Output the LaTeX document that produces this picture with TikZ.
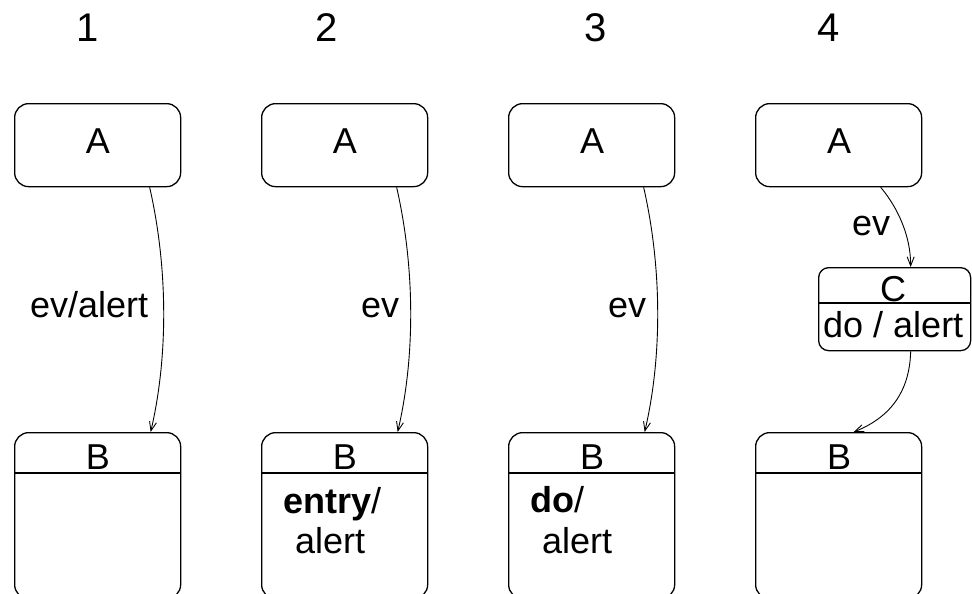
\documentclass[tikz,border=0pt]{standalone}
\usepackage{fontspec}
\setmainfont{Liberation Sans}
\usetikzlibrary{arrows.meta}
\begin{document}
\begin{tikzpicture}[x=1pt,y=-1pt,
  statebox/.style={draw, line width=1.3pt, rounded corners=14pt, minimum width=166pt, inner sep=0pt, anchor=north west},
  lbl/.style={inner sep=0pt, anchor=base, font=\fontsize{36}{40}\selectfont},
  lblw/.style={inner sep=0pt, anchor=base west, font=\fontsize{36}{40}\selectfont},
  num/.style={inner sep=0pt, anchor=base, font=\fontsize{40}{44}\selectfont},
  trans/.style={line width=0.9pt, -{Straight Barb[length=9pt,width=7pt]}},
  sep/.style={line width=1.3pt}
]
\clip (0,0) rectangle (972,594);
\fill[white] (0,0) rectangle (972,594);

% column numbers
\node[num] (n1) at (88,42) {1};
\node[num] (n2) at (327,42) {2};
\node[num] (n3) at (596,42) {3};
\node[num] (n4) at (829,42) {4};

% A boxes
\node[statebox, minimum height=83pt] (A1) at (14,103) {};
\node[statebox, minimum height=83pt] (A2) at (261,103) {};
\node[statebox, minimum height=83pt] (A3) at (508,103) {};
\node[statebox, minimum height=83pt] (A4) at (755,103) {};
\node[lbl] (ta1) at (98,153) {A};
\node[lbl] (ta2) at (345,153) {A};
\node[lbl] (ta3) at (592,153) {A};
\node[lbl] (ta4) at (839,153) {A};

% B boxes
\node[statebox, minimum height=166pt] (B1) at (14,432) {};
\node[statebox, minimum height=166pt] (B2) at (261,432) {};
\node[statebox, minimum height=166pt] (B3) at (508,432) {};
\node[statebox, minimum height=166pt] (B4) at (755,432) {};
\foreach \b in {B1,B2,B3,B4} {
  \draw[sep] (\b.north west) ++(0,41) -- ++(166,0);
}
\node[lbl] (tb1) at (98,469) {B};
\node[lbl] (tb2) at (345,469) {B};
\node[lbl] (tb3) at (592,469) {B};
\node[lbl] (tb4) at (839,469) {B};

\node[lblw] (en2) at (283,513) {\textbf{entry}/};
\node[lblw] (al2) at (295,553) {alert};
\node[lblw] (do3) at (530,512) {\textbf{do}/};
\node[lblw] (al3) at (542,553) {alert};

% C box
\node[statebox, minimum width=152pt, minimum height=83pt, rounded corners=10pt] (C) at (818,267) {};
\draw[sep] (C.north west) ++(0,36) -- ++(152,0);
\node[lbl] (tc) at (893,301) {C};
\node[lblw] (tcd) at (823,337) {do / alert};

% transition labels
\node[lblw] (e1) at (30,317) {ev/alert};
\node[lblw] (e2) at (361,317) {ev};
\node[lblw] (e3) at (608,317) {ev};
\node[lblw] (e4) at (852,235) {ev};

% transitions
\draw[trans] ([xshift=52pt]A1.south) .. controls +(18,79) and +(18,-77) .. ([xshift=53pt]B1.north);
\draw[trans] ([xshift=52pt]A2.south) .. controls +(18,79) and +(18,-77) .. ([xshift=53pt]B2.north);
\draw[trans] ([xshift=52pt]A3.south) .. controls +(18,79) and +(18,-77) .. ([xshift=53pt]B3.north);
\draw[trans] ([xshift=42pt]A4.south) .. controls +(12,14) and +(0,-37) .. ([xshift=16pt]C.north);
\draw[trans] ([xshift=16pt]C.south) .. controls +(-1,42) and +(35,-14) .. ([xshift=15pt]B4.north);
\end{tikzpicture}
\end{document}
